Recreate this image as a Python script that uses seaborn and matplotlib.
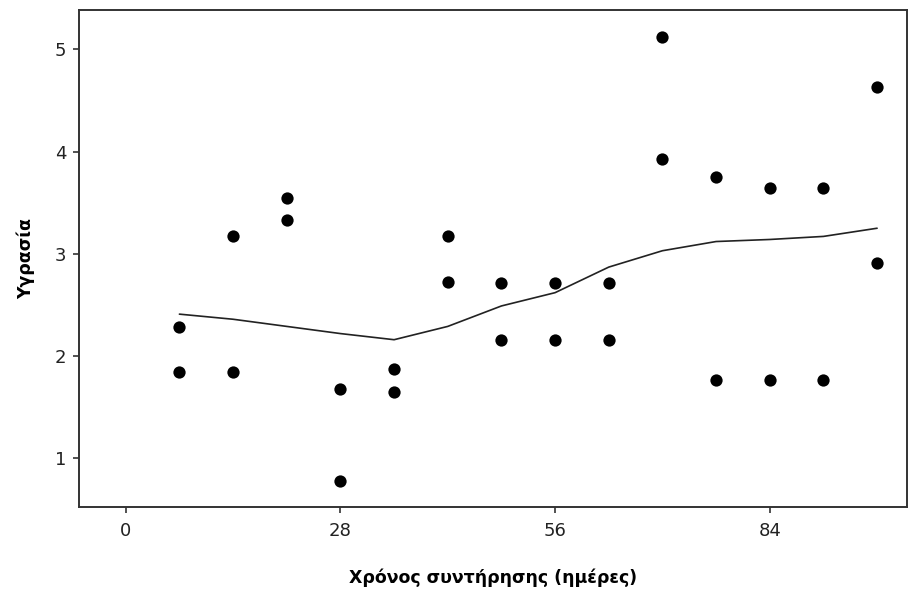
import matplotlib
matplotlib.use("Agg")
import matplotlib.pyplot as plt
import seaborn as sns
import pandas as pd

# Data
days = [7, 7, 14, 14, 21, 21, 28, 28, 35, 35, 42, 42, 49, 49, 56, 56, 63, 63,
        70, 70, 77, 77, 84, 84, 91, 91, 98, 98]
moisture = [2.28, 1.84, 3.17, 1.84, 3.55, 3.33, 1.68, 0.78, 1.87, 1.65,
            3.17, 2.72, 2.71, 2.16, 2.71, 2.16, 2.71, 2.16,
            5.12, 3.93, 3.75, 1.77, 3.64, 1.77, 3.64, 1.77, 4.63, 2.91]
smooth_days = [7, 14, 21, 28, 35, 42, 49, 56, 63, 70, 77, 84, 91, 98]
smooth_vals = [2.41, 2.36, 2.29, 2.22, 2.16, 2.29, 2.49, 2.62, 2.87, 3.03,
               3.12, 3.14, 3.17, 3.25]
x_ticks = [0, 28, 56, 84]
y_ticks = [1, 2, 3, 4, 5]

pts = pd.DataFrame({"days": days, "moisture": moisture})
smooth = pd.DataFrame({"days": smooth_days, "moisture": smooth_vals})

sns.set_style("ticks")
plt.rcParams["font.family"] = ["DejaVu Sans"]

fig = plt.figure(figsize=(9.11, 5.91), dpi=100)
ax = fig.add_axes([0.0867, 0.1421, 0.9089, 0.841])

sns.scatterplot(data=pts, x="days", y="moisture", ax=ax, color="black",
                s=78, edgecolor="black", linewidth=0, zorder=3)
sns.lineplot(data=smooth, x="days", y="moisture", ax=ax, color="#222222",
             linewidth=1.2, zorder=2)

ax.set_xlim(-6.1, 101.9)
ax.set_ylim(0.524, 5.384)
ax.set_xticks(x_ticks)
ax.set_yticks(y_ticks)
ax.tick_params(axis="both", direction="out", length=4, width=1.2,
               color="#333333", labelsize=13, labelcolor="#222222")
ax.tick_params(axis="x", pad=7)
ax.tick_params(axis="y", pad=5)
for sp in ax.spines.values():
    sp.set_visible(True)
    sp.set_linewidth(1.4)
    sp.set_color("#333333")

ax.set_xlabel("Χρόνος συντήρησης (ημέρες)", fontsize=12.5, fontweight="bold",
              labelpad=20, color="black")
ax.set_ylabel("Υγρασία", fontsize=12.5, fontweight="bold", labelpad=14,
              color="black")

fig.savefig("out.png", dpi=100)
